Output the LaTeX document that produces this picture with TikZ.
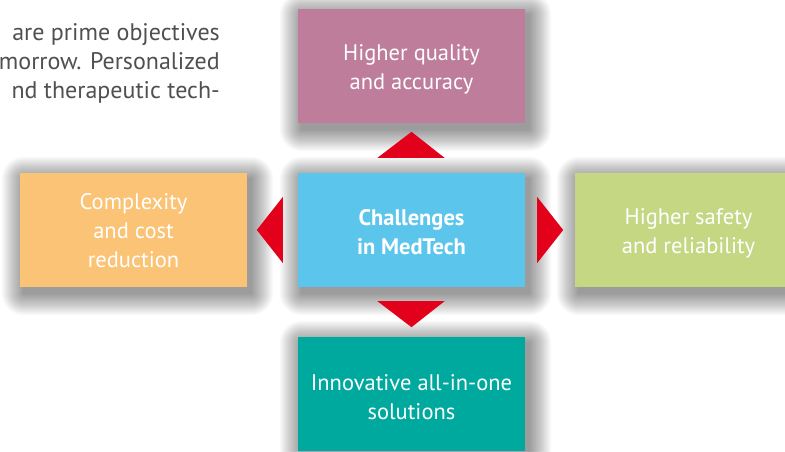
\documentclass[tikz,border=0pt]{standalone}
\usepackage{fontspec}
\setmainfont{PT Sans}
\usetikzlibrary{calc}
\definecolor{cTop}{HTML}{BE7D9A}
\definecolor{cCen}{HTML}{5BC5EC}
\definecolor{cLeft}{HTML}{FAC375}
\definecolor{cRight}{HTML}{C6D784}
\definecolor{cBot}{HTML}{00A99D}
\definecolor{cRed}{HTML}{E2001A}
\definecolor{cTxt}{HTML}{505050}
\pgfdeclarelayer{bg}
\pgfsetlayers{bg,main}
\newcommand{\softshadow}[1]{%
  \begin{pgfonlayer}{bg}
  \foreach \k in {1,...,22}{
    \fill[black, opacity=0.019, rounded corners=\k pt]
      ($(#1.south west)+(4-\k,-6-\k)$) rectangle ($(#1.north east)+(4+\k,-6+\k)$);
  }
  \end{pgfonlayer}}
\tikzset{
  box/.style={minimum width=227pt, minimum height=114pt, inner sep=0pt},
  boxtext/.style={inner sep=0pt, align=center, text=white, font=\fontsize{22.5}{29}\selectfont},
  tri/.style={fill=cRed},
  para/.style={anchor=base east, inner sep=0pt, text=cTxt, font=\fontsize{24}{24}\selectfont}
}
\begin{document}
\begin{tikzpicture}[x=1pt,y=1pt]
\useasboundingbox (0,0) rectangle (785,-451);
\begin{pgfonlayer}{bg}
\fill[white] (0,0) rectangle (785,-451);
\end{pgfonlayer}
\node[box, fill=cTop] (top) at (411.5,-66) {};
\node[box, fill=cCen] (center) at (411.5,-230) {};
\node[box, fill=cLeft] (left) at (133.5,-230) {};
\node[box, fill=cRight] (right) at (688.5,-230) {};
\node[box, fill=cBot] (bottom) at (411.5,-394) {};
\node[boxtext] (topT) at ([yshift=-3pt]top.center) {Higher quality\\and accuracy};
\node[boxtext, font=\fontsize{22.5}{29}\selectfont\bfseries] (centerT) at ([yshift=-2pt]center.center) {Challenges\\in MedTech};
\node[boxtext] (leftT) at ([yshift=-1pt]left.center) {Complexity\\and cost\\reduction};
\node[boxtext] (rightT) at ([yshift=-3pt]right.center) {Higher safety\\and reliability};
\node[boxtext] (bottomT) at ([yshift=-3pt]bottom.center) {Innovative all-in-one\\solutions};
\softshadow{top}
\softshadow{center}
\softshadow{left}
\softshadow{right}
\softshadow{bottom}
% arrows
\fill[tri] ($(center.north)+(-34,15)$) -- ($(center.north)+(33,15)$) -- ($(center.north)+(0,41)$) -- cycle;
\fill[tri] ($(center.south)+(-34,-14)$) -- ($(center.south)+(33,-14)$) -- ($(center.south)+(0,-40)$) -- cycle;
\fill[tri] ($(center.west)+(-15,33)$) -- ($(center.west)+(-15,-33)$) -- ($(center.west)+(-41,0)$) -- cycle;
\fill[tri] ($(center.east)+(12,33)$) -- ($(center.east)+(12,-33)$) -- ($(center.east)+(38,0)$) -- cycle;
% paragraph fragment
\node[para] (p1) at (220,-40) {are prime objectives};
\node[para] (p2) at (220,-69) {morrow. Personalized};
\node[para] (p3) at (220,-98) {nd therapeutic tech-};
\end{tikzpicture}
\end{document}
